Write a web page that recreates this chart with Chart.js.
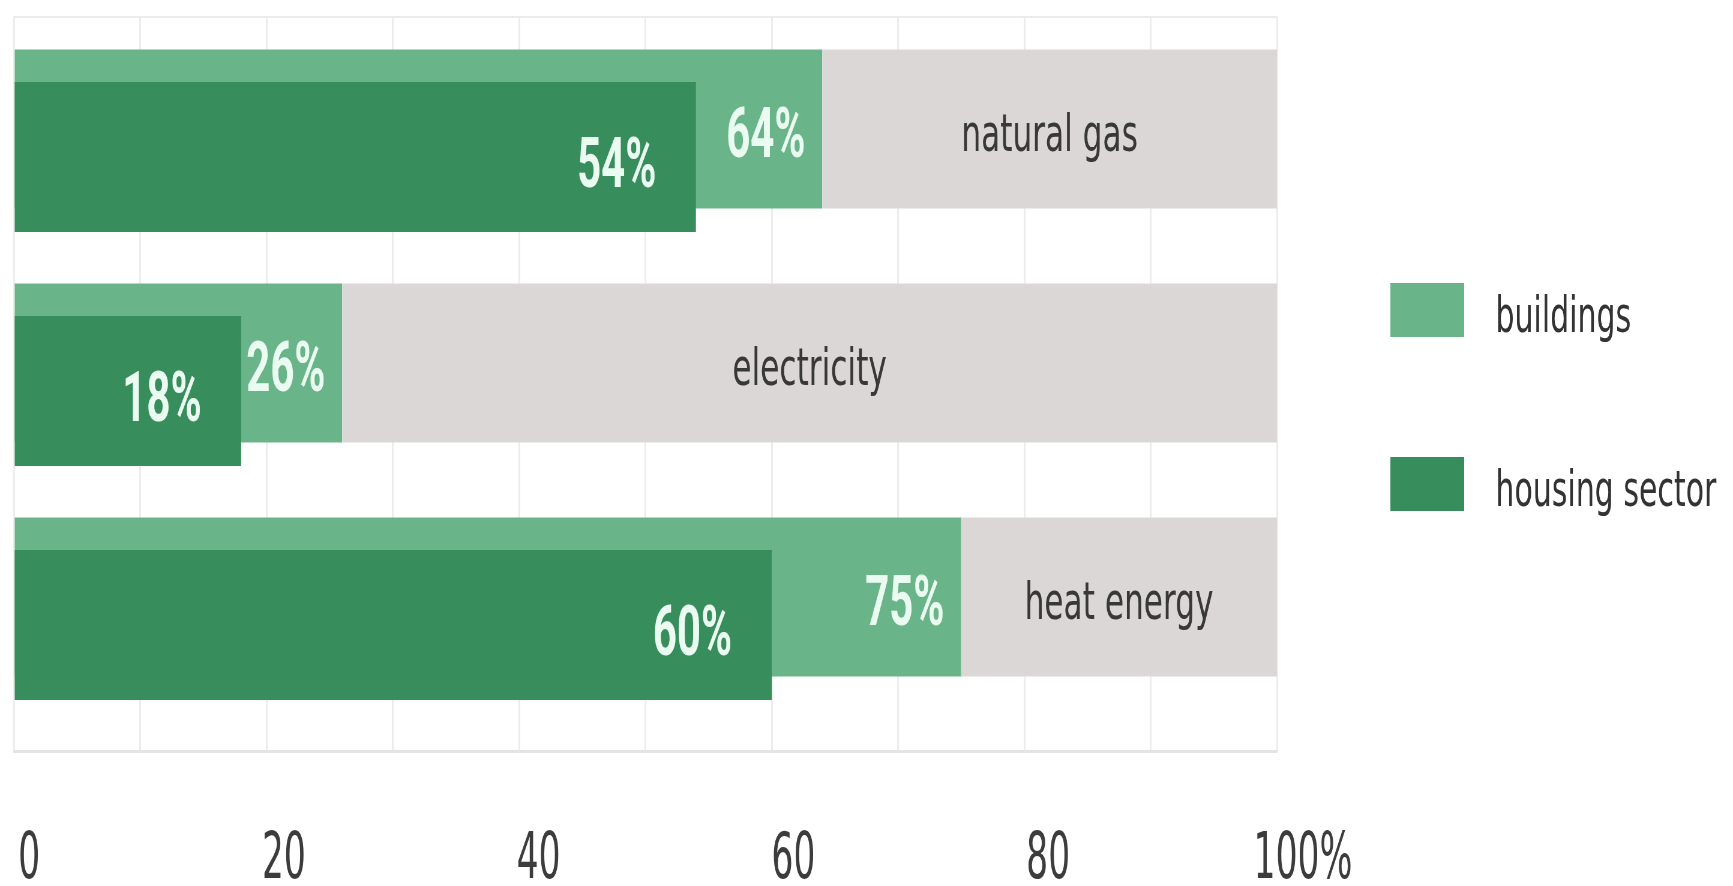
<!DOCTYPE html>
<html>
<head>
<meta charset="utf-8">
<title>Share of energy use</title>
<script src="https://cdn.jsdelivr.net/npm/chart.js@4.4.1/dist/chart.umd.min.js"></script>
<style>
  html, body { margin: 0; padding: 0; background: #fff; }
</style>
</head>
<body>
<!-- drawn wide and squeezed to the page width -->
<canvas id="chart" width="2888" height="886" style="display:block;width:1733px;height:886px"></canvas>
<script>
const categories = ["natural gas", "electricity", "heat energy"];
const buildings = [64, 26, 75];
const housingSector = [54, 18, 60];
const seriesNames = ["buildings", "housing sector"];
const tickValues = [0, 20, 40, 60, 80, 100];
const tickLabels = ["0", "20", "40", "60", "80", "100%"];

const lightGreen = "#69b589";
const darkGreen = "#388d5c";
const restGrey = "#dbd7d7";
const gridColor = "#ececec";

const canvas = document.querySelector("#chart");

// names of the categories in the grey part, percentages inside the green bars
const barLabels = {
    id: "barLabels",
    afterDatasetsDraw(chart) {
        const ctx = chart.ctx;
        const rest = chart.getDatasetMeta(0).data;
        const housing = chart.getDatasetMeta(1).data;
        const build = chart.getDatasetMeta(2).data;

        ctx.save();
        ctx.font = "52px 'DejaVu Sans'";
        ctx.fillStyle = "#383838";
        ctx.textAlign = "center";
        ctx.textBaseline = "alphabetic";
        categories.forEach((name, i) => {
            const bar = rest[i];
            ctx.fillText(name, (bar.x + bar.base) / 2, bar.y + 22);
        });

        ctx.font = "bold 70px Roboto";
        ctx.fillStyle = "#eafcf1";
        ctx.textAlign = "right";
        ctx.textBaseline = "middle";
        build.forEach((bar, i) => ctx.fillText(buildings[i] + "%", bar.x - 28, bar.y + 10));
        housing.forEach((bar, i) => ctx.fillText(housingSector[i] + "%", bar.x - 66, bar.y + 13));
        ctx.restore();
    }
};

// legend on the right side
const sideLegend = {
    id: "sideLegend",
    afterDraw(chart) {
        const ctx = chart.ctx;
        const left = chart.chartArea.right + 189;
        const items = [chart.data.datasets[2], chart.data.datasets[1]];
        ctx.save();
        ctx.font = "50px 'DejaVu Sans'";
        ctx.textAlign = "left";
        ctx.textBaseline = "alphabetic";
        items.forEach((ds, i) => {
            const top = 283 + i * 174;
            ctx.fillStyle = ds.backgroundColor;
            ctx.fillRect(left, top, 123, 54);
            ctx.fillStyle = "#333";
            ctx.fillText(ds.label, left + 175, top + 49);
        });
        ctx.restore();
    }
};

const config = {
    type: "bar",
    data: {
        labels: categories,
        datasets: [
            {
                label: "rest",
                data: buildings.map(v => [v, 100]),
                backgroundColor: restGrey,
                stack: "top",
                barPercentage: 5.68
            },
            {
                label: seriesNames[1],
                data: housingSector,
                backgroundColor: darkGreen,
                stack: "bottom",
                barPercentage: 5.36
            },
            {
                label: seriesNames[0],
                data: buildings,
                backgroundColor: lightGreen,
                stack: "top",
                barPercentage: 5.68
            }
        ]
    },
    options: {
        indexAxis: "y",
        responsive: false,
        animation: false,
        devicePixelRatio: 1,
        categoryPercentage: 0.2393,
        layout: { padding: { left: 23, right: 760, top: 0, bottom: 0 } },
        plugins: {
            legend: { display: false },
            tooltip: { enabled: false }
        },
        scales: {
            y: { type: "category", display: false },
            x: {
                type: "linear",
                position: "bottom",
                weight: 1,
                min: 0,
                max: 100,
                stacked: false,
                ticks: { display: false, stepSize: 10 },
                grid: { color: gridColor, lineWidth: 3, drawTicks: true, tickLength: 23, tickColor: gridColor },
                border: { display: false }
            },
            xLabels: {
                type: "linear",
                position: "bottom",
                weight: 2,
                min: -1.2,
                max: 97.96,
                afterBuildTicks: s => { s.ticks = tickValues.map(v => ({ value: v })); },
                afterFit: s => { s.height = 135; },
                ticks: {
                    padding: 0,
                    autoSkip: false,
                    maxRotation: 0,
                    color: "#3c3c3c",
                    font: { family: "'Liberation Sans Narrow', 'DejaVu Sans Condensed', Roboto", size: 64, lineHeight: 1 },
                    callback: (v, i) => tickLabels[i]
                },
                // hidden tick marks only push the labels down
                grid: { display: false, drawTicks: true, tickLength: 78 },
                border: { display: true, color: "#e4e4e4", width: 3 }
            },
            xTop: {
                type: "linear",
                position: "top",
                weight: 1,
                min: 0,
                max: 100,
                ticks: { display: false, stepSize: 10 },
                grid: { drawOnChartArea: false, drawTicks: true, tickLength: 9, color: gridColor, lineWidth: 3 },
                border: { display: false }
            },
            xTopLine: {
                type: "linear",
                position: "top",
                weight: 2,
                min: 0,
                max: 100,
                afterFit: s => { s.height = 17; },
                ticks: { display: false },
                grid: { display: false, drawTicks: false },
                border: { display: true, color: gridColor, width: 2 }
            }
        }
    },
    plugins: [barLabels, sideLegend]
};

const myChart = new Chart(canvas, config);
</script>
</body>
</html>
